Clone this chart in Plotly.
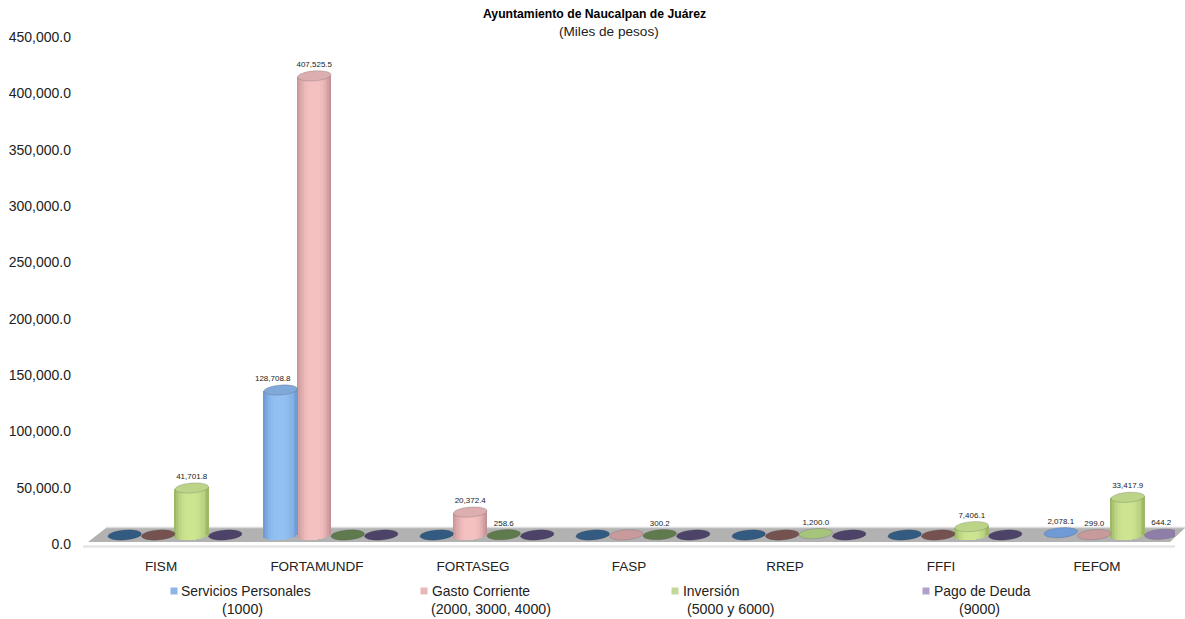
import math
import plotly.graph_objects as go

categories = ["FISM", "FORTAMUNDF", "FORTASEG", "FASP", "RREP", "FFFI", "FEFOM"]
servicios = [0, 128708.8, 0, 0, 0, 0, 2078.1]
gasto = [0, 407525.5, 20372.4, 150, 0, 0, 299.0]
inversion = [41701.8, 0, 258.6, 300.2, 1200.0, 7406.1, 33417.9]
deuda = [0, 0, 0, 0, 0, 0, 644.2]
# 150 is an estimate: the FASP pink disc is lit but carries no label
hidden_labels = {(3, 1)}
lit_flat = {(3, 1), (4, 2), (6, 0), (6, 1), (6, 3)}

series_values = [servicios, gasto, inversion, deuda]
legend_line1 = ["Servicios Personales", "Gasto Corriente", "Inversión", "Pago de Deuda"]
legend_line2 = ["(1000)", "(2000, 3000, 4000)", "(5000 y 6000)", "(9000)"]
legend_square = ["#8db4e2", "#e6b8b7", "#c4d79b", "#b1a0c7"]
body_light = [(146, 192, 240), (244, 192, 192), (205, 228, 145), (180, 165, 205)]
body_edge = [(104, 150, 208), (190, 140, 144), (150, 178, 98), (120, 100, 150)]
top_fill = ["#80a8d8", "#dcaeb0", "#bcd488", "#a08fb8"]
flat_lit = ["#6f9ad6", "#c99a9c", "#a6c47c", "#8f7fa8"]
flat_dark = ["#335a80", "#75524f", "#5f7a4c", "#4d4268"]

W, H = 1185, 619
L, R, T, B = 83, 1175, 37, 544
YMAX = 450000
units_per_px = YMAX / (B - T)
x_per_px = 7 / (R - L)
shift = 9 * units_per_px
ry = 5 * units_per_px
tilt = 1.2 * units_per_px
label_gap = 2 * units_per_px
bar_w = 33.5 * x_per_px
group_dx = 14 * x_per_px
N = 21


def px(v):
    return (v - L) / (R - L)


def py(v):
    return (B - v) / (B - T)


def mix(a, b, f):
    return "rgb(%d,%d,%d)" % tuple(round(a[i] + (b[i] - a[i]) * f) for i in range(3))


def disc_path(cx, cy):
    pts = []
    for a in range(0, 360, 15):
        r = math.radians(a)
        cs = math.cos(r)
        pts.append((cx + bar_w / 2 * cs, cy + ry * math.sin(r) + tilt * cs))
    return "M " + " L ".join(f"{p[0]} {p[1]}" for p in pts) + " Z"


xpos = [[c + group_dx + (s - 1.5) * bar_w for c in range(7)] for s in range(4)]
fig = go.Figure()

for k in range(N):
    t = -1 + (2 * k + 1) / N
    sag = ry * math.sqrt(1 - t * t)
    f = 1 - abs(t) ** 3
    xs, bases, heights, colors = [], [], [], []
    for s, vals in enumerate(series_values):
        for c, v in enumerate(vals):
            if v < 2000 or (c, s) in lit_flat:
                continue
            xs.append(xpos[s][c] + t * bar_w / 2)
            bases.append(shift - sag + tilt * t)
            heights.append(v + sag)
            colors.append(mix(body_edge[s], body_light[s], f))
    fig.add_trace(go.Bar(x=xs, y=heights, base=bases, width=bar_w / N * 1.25,
                         marker=dict(color=colors, line=dict(width=0)),
                         hoverinfo="skip", showlegend=False))

lx, ly, lt = [], [], []
for s, vals in enumerate(series_values):
    for c, v in enumerate(vals):
        if v > 0 and (c, s) not in hidden_labels:
            nudge = -8 * x_per_px if v == 128708.8 else 0
            lx.append(xpos[s][c] + nudge)
            ly.append(v + shift + ry + label_gap)
            lt.append(f"{v:,.1f}")
fig.add_trace(go.Scatter(x=lx, y=ly, text=lt, mode="text", textposition="top center",
                         textfont=dict(family="Liberation Sans, Arial", size=8, color="#222222"),
                         hoverinfo="skip", showlegend=False, cliponaxis=False))

shapes = [
    dict(type="path", xref="paper", yref="paper", layer="below", line=dict(width=0),
         fillcolor="#b2b2b2",
         path=f"M {px(88)} {py(542)} L {px(106)} {py(528)} L {px(1185)} {py(528)} L {px(1170)} {py(542)} Z"),
    dict(type="line", xref="paper", yref="paper", layer="below",
         line=dict(color="#dcdcdc", width=1.5), x0=px(106), x1=px(1185), y0=py(527.5), y1=py(527.5)),
    dict(type="line", xref="paper", yref="paper", layer="below",
         line=dict(color="#e4e4e4", width=2.5), x0=px(83), x1=px(1175), y0=py(546.5), y1=py(546.5)),
]
for s, vals in enumerate(series_values):
    for c, v in enumerate(vals):
        if v < 2000 or (c, s) in lit_flat:
            color = flat_lit[s] if (c, s) in lit_flat else flat_dark[s]
        else:
            color = top_fill[s]
        shapes.append(dict(type="path", xref="x", yref="y", layer="above",
                           path=disc_path(xpos[s][c], shift + v),
                           fillcolor=color, line=dict(width=0.5, color="rgba(70,70,80,0.45)")))

font = "Liberation Sans, Arial"
ann = []
ann.append(dict(text="<b>Ayuntamiento de Naucalpan de Juárez</b>", x=px(594), y=py(14),
                xref="paper", yref="paper", showarrow=False, xanchor="center", yanchor="middle",
                font=dict(family=font, size=12.2, color="#000000")))
ann.append(dict(text="(Miles de pesos)", x=px(608.5), y=py(32),
                xref="paper", yref="paper", showarrow=False, xanchor="center", yanchor="middle",
                font=dict(family=font, size=13.6, color="#222222")))
leg_sq_x = [174, 424, 675, 926]
leg_txt_x = [178.5, 429.5, 680.5, 931.5]
leg_l2_cx = [242, 491, 731, 979]
for i in range(4):
    shapes.append(dict(type="rect", xref="paper", yref="paper", layer="above", line=dict(width=0),
                       fillcolor=legend_square[i],
                       x0=px(leg_sq_x[i] - 3.5), x1=px(leg_sq_x[i] + 3.5), y0=py(594.5), y1=py(587.5)))
    ann.append(dict(text=legend_line1[i], x=px(leg_txt_x[i]), y=py(591), xref="paper", yref="paper",
                    showarrow=False, xanchor="left", yanchor="middle",
                    font=dict(family=font, size=13.9, color="#222222")))
    ann.append(dict(text=legend_line2[i], x=px(leg_l2_cx[i]), y=py(609), xref="paper", yref="paper",
                    showarrow=False, xanchor="center", yanchor="middle",
                    font=dict(family=font, size=14.2, color="#222222")))

fig.update_layout(
    width=W, height=H, autosize=False, barmode="overlay",
    margin=dict(l=L, r=W - R, t=T, b=H - B),
    paper_bgcolor="#ffffff", plot_bgcolor="rgba(0,0,0,0)",
    shapes=shapes, annotations=ann, showlegend=False, bargap=0,
    xaxis=dict(range=[-0.5, 6.5], tickmode="array", tickvals=list(range(7)), ticktext=categories,
               showgrid=False, zeroline=False, showline=False, ticks="", ticklabelstandoff=12,
               tickfont=dict(family=font, size=13.5, color="#222222")),
    yaxis=dict(range=[0, YMAX], tick0=0, dtick=50000, tickformat=",.1f", showgrid=False,
               zeroline=False, showline=False, ticks="", ticklabelstandoff=11,
               tickfont=dict(family=font, size=14, color="#222222")),
)
fig.write_html("out.html", post_script="document.body.style.margin='0';",
               config={"displayModeBar": False})
